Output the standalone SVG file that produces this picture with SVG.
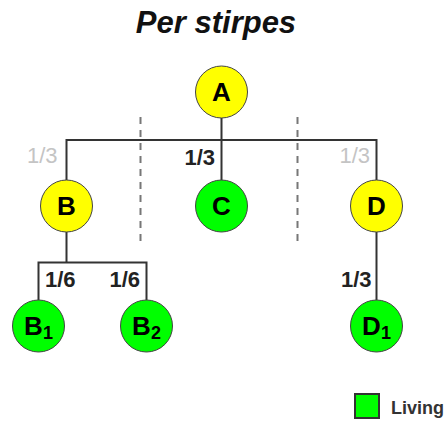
<svg xmlns="http://www.w3.org/2000/svg" width="444" height="423" viewBox="0 0 444 423">
<style>
.t{font-family:"Liberation Sans",Arial,sans-serif}
.title{font-size:31px;font-weight:bold;font-style:italic;fill:#111}
.n{font-size:26px;font-weight:bold;fill:#000;text-anchor:middle}
.sub{font-size:18px}
.lb{font-size:22px;font-weight:bold;fill:#222}
.lg{font-size:22px;fill:#c4c4c4}
.y{fill:#ffff00;stroke:#444;stroke-width:1}
.g{fill:#00ff00;stroke:#444;stroke-width:1}
.ln{stroke:#333;stroke-width:2;fill:none}
.ds{stroke:#777;stroke-width:2;stroke-dasharray:7 6;fill:none}
</style>
<rect width="444" height="423" fill="#fff"/>
<text class="t title" x="216" y="33" text-anchor="middle">Per stirpes</text>
<g id="dividers">
<line class="ds" x1="140.5" y1="117" x2="140.5" y2="247"/>
<line class="ds" x1="297.5" y1="117" x2="297.5" y2="247"/>
</g>
<g id="connectors">
<path class="ln" d="M221.5 118 V182 M66.5 182 V140 H376.5 V182"/>
<path class="ln" d="M66.5 232 V262.5 M38.5 300 V262.5 H146.5 V300"/>
<path class="ln" d="M376.5 232 V300"/>
</g>
<g id="labels">
<text class="t lg" x="57.5" y="163" text-anchor="end">1/3</text>
<text class="t lb" x="215" y="165" text-anchor="end">1/3</text>
<text class="t lg" x="370" y="163" text-anchor="end">1/3</text>
<text class="t lb" x="45" y="287">1/6</text>
<text class="t lb" x="140" y="287" text-anchor="end">1/6</text>
<text class="t lb" x="371.5" y="287" text-anchor="end">1/3</text>
</g>
<g id="A"><circle class="y" cx="221.5" cy="92" r="26"/><text class="t n" x="221.5" y="101">A</text></g>
<g id="B"><circle class="y" cx="66.5" cy="206" r="26"/><text class="t n" x="66.5" y="215">B</text></g>
<g id="C"><circle class="g" cx="221.5" cy="206" r="26"/><text class="t n" x="221.5" y="215">C</text></g>
<g id="D"><circle class="y" cx="376.5" cy="206" r="26"/><text class="t n" x="376.5" y="215">D</text></g>
<g id="B1"><circle class="g" cx="38.5" cy="326" r="26"/><text class="t n" x="38.5" y="335">B<tspan class="sub" dy="4">1</tspan></text></g>
<g id="B2"><circle class="g" cx="146.5" cy="326" r="26"/><text class="t n" x="146.5" y="335">B<tspan class="sub" dy="4">2</tspan></text></g>
<g id="D1"><circle class="g" cx="376.5" cy="326" r="26"/><text class="t n" x="376.5" y="335">D<tspan class="sub" dy="4">1</tspan></text></g>
<g id="legend">
<rect x="355" y="394" width="24" height="24" fill="#00ff00" stroke="#333" stroke-width="2"/>
<text class="t" x="391" y="414" font-size="18" font-weight="bold" fill="#333">Living</text>
</g>
</svg>
